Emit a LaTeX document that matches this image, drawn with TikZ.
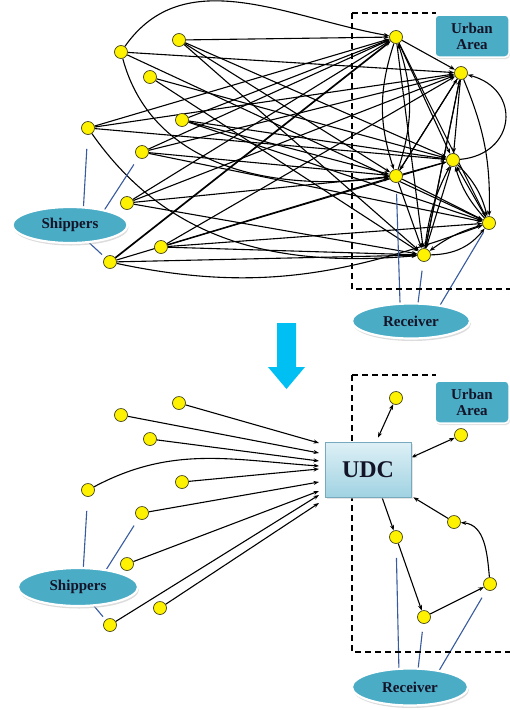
\documentclass[tikz,border=0pt]{standalone}
\usepackage{fontspec}
\setmainfont{Liberation Serif}
\usetikzlibrary{shapes.geometric,arrows.meta,shadows,calc}

\definecolor{tagteal}{RGB}{75,172,198}
\definecolor{linkblue}{RGB}{55,90,160}
\definecolor{inkdark}{RGB}{20,20,40}
\definecolor{bigarrow}{RGB}{0,191,243}
\definecolor{udctop}{RGB}{222,240,246}
\definecolor{udcbot}{RGB}{160,210,226}
\definecolor{hubrim}{RGB}{70,70,30}

\pgfdeclarelayer{links}
\pgfsetlayers{links,main}

\tikzset{
  hub/.style={circle, draw=hubrim, fill=yellow, line width=0.7pt,
    minimum size=13pt, inner sep=0pt},
  edge/.style={draw=black, line width=1.1pt, -{Stealth[length=5.5pt,width=4pt]}},
  twoway/.style={draw=black, line width=1.1pt,
    {Stealth[length=5.5pt,width=4pt]}-{Stealth[length=5.5pt,width=4pt]}},
  tag/.style={ellipse, fill=tagteal, draw=white, line width=2.2pt,
    drop shadow={shadow xshift=1pt, shadow yshift=-2.5pt, fill=gray!55},
    font=\fontsize{15}{17}\selectfont\bfseries, text=inkdark, inner sep=0pt},
  areabox/.style={rounded corners=4pt, fill=tagteal, draw=white, line width=1.5pt,
    drop shadow={shadow xshift=1pt, shadow yshift=-2pt, fill=gray!45},
    font=\fontsize{15}{16}\selectfont\bfseries, text=inkdark, align=center,
    minimum width=74pt, minimum height=42pt, inner sep=0pt},
  link/.style={draw=linkblue, line width=1.1pt},
  zone/.style={draw=black, line width=1.6pt, dash pattern=on 6pt off 4pt},
}

\begin{document}
\begin{tikzpicture}[x=1pt,y=-1pt]
\useasboundingbox (0,0) rectangle (510,710);

% ---------- upper network: every shipper to many receivers ----------
\draw[zone] (352,13) -- (352,289) -- (515,289);
\draw[zone] (352,13) -- (436,13);

\foreach \n/\x/\y in {S1/179/40, S2/121/52, S3/150/77, S4/88/128, S5/182/120,
                      S6/142/152, S7/127/203, S8/161/247, S9/110/262,
                      U1/396/37, U2/461/73, U3/453/160, U4/396/176, U5/489/223, U6/424/255}
  \node[hub] (\n) at (\x,\y) {};

\node[areabox] (area1) at (472,36) {Urban\\Area};
\node[tag, minimum width=115pt, minimum height=36pt] (ship1) at (70,225) {Shippers};
\node[tag, minimum width=118pt, minimum height=35pt] (recv1) at (411,321) {Receiver};

\begin{pgfonlayer}{links}
  % shipper -> receiver links
  \foreach \a/\b in {S1/U1, S1/U3, S1/U4, S1/U6, S2/U2, S2/U5, S3/U3, S3/U6,
                     S4/U1, S4/U2, S4/U3, S5/U1, S5/U3, S5/U4, S5/U5,
                     S6/U1, S6/U2, S6/U4, S6/U5, S7/U1, S7/U2, S7/U4, S7/U6,
                     S8/U2, S8/U3, S8/U5, S8/U6, S9/U4, S9/U6}
    \draw[edge] (\a) -- (\b);
  \draw[edge, line width=1.7pt] (S9) -- (U1);
  \draw[edge] (S2) to[out=55,in=170] (U1);
  \draw[edge] (S2) to[out=-75,in=188] (U4);
  \draw[edge] (S4) to[out=-55,in=185] (U6);
  \draw[edge] (S9) to[out=-12,in=200] (U5);
  % links among receivers
  \foreach \a/\b in {U1/U3, U1/U5, U1/U6, U1/U2, U2/U3, U2/U4, U2/U6, U4/U3,
                     U3/U6, U4/U5, U4/U6, U5/U3, U6/U2, U4/U2}
    \draw[edge] (\a) -- (\b);
  \draw[edge] (U1) to[bend right=18] (U4);
  \draw[edge] (U4) to[bend right=18] (U1);
  \draw[edge] (U2) to[bend left=12] (U5);
  \draw[edge] (U3) to[bend left=15] (U5);
  \draw[edge] (U5) to[bend left=12] (U3);
  \draw[edge] (U6) to[bend left=10] (U3);
  \draw[edge] (U5) to[bend right=10] (U6);
  \draw[edge] (U6) to[bend right=25] (U5);
  \draw[edge] (U3) to[out=5,in=-15,looseness=1.7] (U2);
  % who belongs to which group
  \draw[link, shorten >=14pt] (ship1.54) -- (S4);
  \draw[link, shorten >=8pt] (ship1.24) -- (S6);
  \draw[link, shorten >=4pt] (ship1) -- (S9);
  \draw[link, shorten >=11pt] (recv1.121) -- (U4);
  \draw[link, shorten >=9pt] (recv1.69) -- (U6);
  \draw[link, shorten >=4pt] (recv1.29) -- (U5);
\end{pgfonlayer}

% ---------- transition ----------
\fill[bigarrow] (277,323) -- (296,323) -- (296,367) -- (305,367) -- (286.5,389)
  -- (268,367) -- (277,367) -- cycle;

% ---------- lower network: consolidation through the UDC ----------
\draw[zone] (352,375) -- (352,652) -- (515,652);
\draw[zone] (352,375) -- (436,375);

\foreach \n/\x/\y in {B1/179/403, B2/121/415, B3/150/439, B4/88/490, B5/182/482,
                      B6/142/513, B7/127/564, B8/160/608, B9/110/625,
                      V1/396/398, V2/461/435, V3/454/522, V4/396/537, V5/490/584, V6/424/617}
  \node[hub] (\n) at (\x,\y) {};

\node[areabox] (area2) at (472,402) {Urban\\Area};
\node[tag, minimum width=120pt, minimum height=38pt] (ship2) at (78,587) {Shippers};
\node[tag, minimum width=116pt, minimum height=37pt] (recv2) at (410,687) {Receiver};

\node[draw={rgb,255:red,120;green,170;blue,190}, line width=0.6pt,
      top color=udctop, bottom color=udcbot,
      drop shadow={shadow xshift=1.5pt, shadow yshift=-2pt, fill=gray!40},
      minimum width=86pt, minimum height=55pt, inner sep=0pt,
      font=\fontsize{24}{26}\selectfont\bfseries, text=inkdark] (udc) at (368,469.5) {UDC};

\foreach \n/\y in {t1/443, t2/453, t3/461, t4/466, t5/469, t6/482, t7/491, t8/503, t9/495}
  \coordinate (\n) at (319,\y);

\begin{pgfonlayer}{links}
  \foreach \a/\b in {B1/t1, B2/t2, B3/t3, B5/t5, B6/t6, B7/t7, B8/t8, B9/t9}
    \draw[edge] (\a) -- (\b);
  \draw[edge] (B4) to[out=28,in=176] (t4);
  \draw[twoway] ([xshift=10pt,yshift=4pt]udc.north) -- (V1);
  \draw[twoway] ([yshift=12pt]udc.east) -- (V2);
  \draw[edge] ([xshift=14pt]udc.south) -- (V4);
  \draw[edge] (V4) -- (V6);
  \draw[edge] (V6) -- (V5);
  \draw[edge] (V5) to[out=95,in=-5] (V3);
  \draw[edge] (V3) -- ([xshift=2pt]udc.south east);
  \draw[link, shorten >=14pt] (ship2.75) -- (B4);
  \draw[link, shorten >=8pt] (ship2.32) -- (B6);
  \draw[link, shorten >=4pt] (ship2) -- (B9);
  \draw[link, shorten >=14pt] (recv2.120) -- (V4);
  \draw[link, shorten >=8pt] (recv2.67) -- (V6);
  \draw[link, shorten >=9pt] (recv2.30) -- (V5);
\end{pgfonlayer}
\end{tikzpicture}
\end{document}
